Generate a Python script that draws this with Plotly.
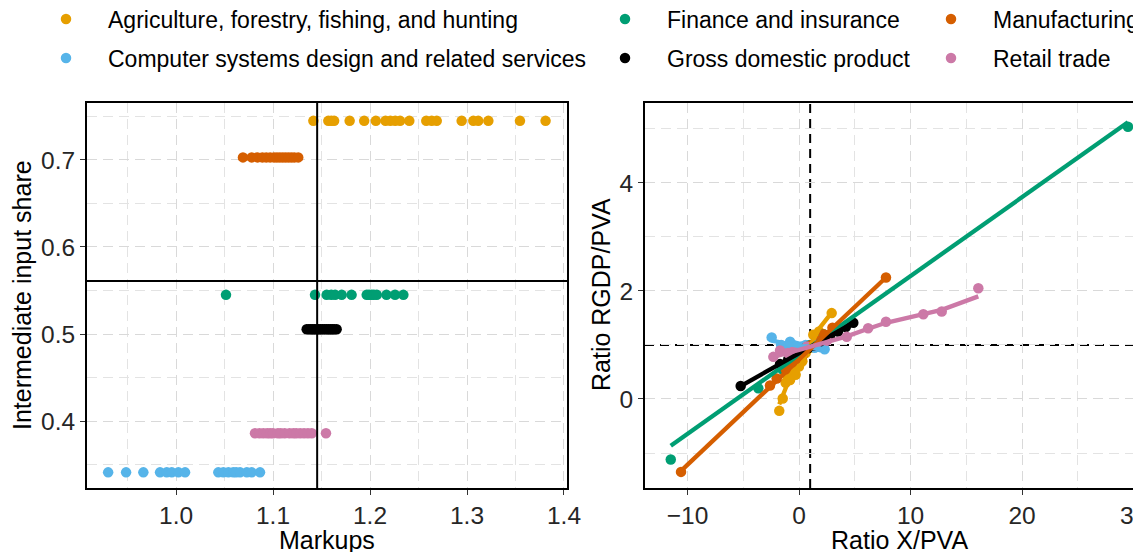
import plotly.graph_objects as go

# ---------------- data ----------------
names = {
    "agri": "Agriculture, forestry, fishing, and hunting",
    "comp": "Computer systems design and related services",
    "fin": "Finance and insurance",
    "gdp": "Gross domestic product",
    "manu": "Manufacturing",
    "retail": "Retail trade",
}
colors = {
    "agri": "#E69F00",
    "comp": "#56B4E9",
    "fin": "#009E73",
    "gdp": "#000000",
    "manu": "#D55E00",
    "retail": "#CC79A7",
}

# Left panel: markups (x) and intermediate input share (constant per industry)
markup_agri = [1.1416, 1.157, 1.160, 1.163, 1.179, 1.194, 1.206, 1.216, 1.221, 1.226, 1.231,
               1.2405, 1.258, 1.2636, 1.2688, 1.2945, 1.3065, 1.3116, 1.322, 1.3546, 1.381]
markup_manu = [1.069, 1.078, 1.084, 1.089, 1.093, 1.097, 1.101, 1.104, 1.107, 1.110, 1.113,
               1.116, 1.119, 1.122, 1.126]
markup_fin = [1.0515, 1.1433, 1.1553, 1.160, 1.164, 1.1708, 1.181, 1.1966, 1.199, 1.2017,
              1.204, 1.207, 1.217, 1.2258, 1.2344]
markup_gdp = [1.1347, 1.137, 1.139, 1.141, 1.143, 1.145, 1.147, 1.149, 1.151, 1.153, 1.155,
              1.157, 1.159, 1.161, 1.163, 1.1656]
markup_retail = [1.0814, 1.086, 1.090, 1.094, 1.097, 1.100, 1.105, 1.108, 1.112, 1.117, 1.121,
                 1.124, 1.128, 1.132, 1.136, 1.140, 1.1546]
markup_comp = [0.930, 0.9485, 0.9663, 0.9835, 0.9904, 0.9956, 1.0024, 1.0093, 1.0436, 1.0488,
               1.054, 1.059, 1.062, 1.066, 1.073, 1.078, 1.0866]

share_agri = 0.745
share_manu = 0.703
share_fin = 0.545
share_gdp = 0.5054
share_retail = 0.386
share_comp = 0.341

markup_threshold = 1.1455
share_threshold = 0.561

# Right panel: Ratio X/PVA (x), Ratio RGDP/PVA (y) and fitted trend
xr_agri = [-1.77, -1.46, -1.2, -1.0, -0.8, -0.6, -0.3, 0.0, 0.3, 0.6, 1.0, 1.28, 1.8, 2.93]
yr_agri = [-0.22, 0.01, 0.30, 0.40, 0.35, 0.50, 0.45, 0.60, 0.70, 0.85, 0.95, 1.19, 1.25, 1.59]
fit_agri = [-0.10, 0.05, 0.22, 0.30, 0.35, 0.42, 0.45, 0.55, 0.68, 0.82, 0.98, 1.12, 1.30, 1.60]

xr_comp = [-2.45, -1.6, -1.2, -0.8, -0.5, -0.2, 0.2, 0.6, 1.0, 1.4, 1.9, 2.3]
yr_comp = [1.14, 1.00, 0.97, 1.06, 1.00, 0.98, 0.97, 1.00, 0.98, 0.95, 0.96, 0.92]
fit_comp = [1.08, 1.04, 1.02, 1.02, 1.00, 0.99, 0.98, 0.98, 0.97, 0.95, 0.94, 0.92]

xr_fin = [-11.5, -3.65, -1.5, -0.8, -0.3, 0.2, 0.6, 1.0, 1.5, 2.2, 29.5]
yr_fin = [-1.12, 0.20, 0.55, 0.70, 0.80, 0.88, 0.95, 1.00, 1.05, 1.20, 5.04]
fit_fin = [-0.865, 0.278, 0.591, 0.693, 0.766, 0.839, 0.897, 0.955, 1.028, 1.130, 5.124]

xr_gdp = [-5.23, -1.7, -0.96, -0.5, -0.2, 0.3, 0.8, 1.3, 1.88, 2.4, 2.78, 3.5, 4.2, 4.87]
yr_gdp = [0.24, 0.649, 0.735, 0.788, 0.823, 0.880, 0.938, 0.996, 1.063, 1.124, 1.168, 1.251,
          1.332, 1.41]
fit_gdp = [0.24, 0.649, 0.735, 0.788, 0.823, 0.880, 0.938, 0.996, 1.063, 1.124, 1.168, 1.251,
           1.332, 1.41]

xr_manu = [-10.58, -2.6, -2.0, -1.2, -0.6, -0.2, 0.3, 0.7, 1.1, 1.6, 2.2, 3.0, 7.8]
yr_manu = [-1.35, 0.25, 0.38, 0.55, 0.68, 0.75, 0.80, 0.95, 1.00, 1.08, 1.20, 1.32, 2.25]
fit_manu = [-1.33, 0.224, 0.341, 0.497, 0.614, 0.692, 0.789, 0.867, 0.945, 1.043, 1.160, 1.315,
            2.25]

xr_retail = [-2.3, -1.7, -1.0, -0.5, 0.0, 0.7, 1.5, 2.5, 4.28, 6.2, 7.8, 11.15, 12.8, 16.08]
yr_retail = [0.78, 0.90, 0.85, 0.88, 0.92, 0.97, 1.00, 1.08, 1.15, 1.31, 1.43, 1.57, 1.62, 2.05]
fit_retail = [0.78, 0.82, 0.85, 0.88, 0.91, 0.95, 1.00, 1.06, 1.16, 1.30, 1.41, 1.57, 1.65, 1.90]

left_data = {
    "agri": (markup_agri, share_agri),
    "fin": (markup_fin, share_fin),
    "manu": (markup_manu, share_manu),
    "comp": (markup_comp, share_comp),
    "gdp": (markup_gdp, share_gdp),
    "retail": (markup_retail, share_retail),
}
right_data = {
    "agri": (xr_agri, yr_agri, fit_agri),
    "comp": (xr_comp, yr_comp, fit_comp),
    "fin": (xr_fin, yr_fin, fit_fin),
    "gdp": (xr_gdp, yr_gdp, fit_gdp),
    "manu": (xr_manu, yr_manu, fit_manu),
    "retail": (xr_retail, yr_retail, fit_retail),
}

# figure size (page body adds an 8px offset)
W, H = 1133, 544
ML, MT, MB = 79, 95, 64
plot_w = W - ML
plot_h = H - MT - MB

legend_slots = {
    "agri": ("legend", 16, 11),
    "comp": ("legend2", 16, 50),
    "fin": ("legend3", 575, 11),
    "gdp": ("legend4", 575, 50),
    "manu": ("legend5", 901, 11),
    "retail": ("legend6", 901, 50),
}

FONT = "Liberation Sans, Arial, Helvetica, sans-serif"
MS = 10.5

fig = go.Figure()

for key, (xs, share) in left_data.items():
    fig.add_trace(go.Scatter(
        x=xs, y=[share] * len(xs), mode="markers", name=names[key],
        marker=dict(color=colors[key], size=MS),
        xaxis="x", yaxis="y", legend=legend_slots[key][0], showlegend=True,
    ))

for key, (xs, ys, fs) in right_data.items():
    fig.add_trace(go.Scatter(
        x=xs, y=ys, mode="markers", name=names[key],
        marker=dict(color=colors[key], size=MS),
        xaxis="x2", yaxis="y2", showlegend=False,
    ))
for key, (xs, ys, fs) in right_data.items():
    fig.add_trace(go.Scatter(
        x=xs, y=fs, mode="lines", name=names[key],
        line=dict(color=colors[key], width=4.3),
        xaxis="x2", yaxis="y2", showlegend=False,
    ))

fig.add_shape(type="line", xref="x", yref="y domain", x0=markup_threshold, x1=markup_threshold,
              y0=0, y1=1, line=dict(color="black", width=2), layer="above")
fig.add_shape(type="line", xref="x domain", yref="y", x0=0, x1=1, y0=share_threshold,
              y1=share_threshold, line=dict(color="black", width=2), layer="above")
fig.add_shape(type="line", xref="x2", yref="y2 domain", x0=1, x1=1, y0=0, y1=1,
              line=dict(color="black", width=2, dash="9px,6px"), layer="below")
fig.add_shape(type="line", xref="x2 domain", yref="y2", x0=0, x1=1, y0=1, y1=1,
              line=dict(color="black", width=2, dash="9px,6px"), layer="below")

axis_common = dict(
    showline=True, linecolor="black", linewidth=2, ticks="outside", ticklen=5,
    tickcolor="#333333", tickwidth=1.2, zeroline=False, automargin=False,
    tickfont=dict(family=FONT, size=24.5, color="#262626"),
    showgrid=True, gridcolor="#D9D9D9", gridwidth=1, griddash="10px,6px",
)

fig.update_layout(
    width=W, height=H,
    margin=dict(l=ML, r=0, t=MT, b=MB, autoexpand=False),
    plot_bgcolor="white", paper_bgcolor="white",
    font=dict(family=FONT, color="#000000"),
    xaxis=dict(domain=[0, 480 / plot_w], range=[0.9082, 1.4031], dtick=0.1, tick0=1.0,
               tickformat=".1f", mirror=True,
               minor=dict(dtick=0.05, tick0=1.0, showgrid=True, gridcolor="#E3E3E3",
                          gridwidth=0.8, griddash="10px,6px"),
               anchor="y", **axis_common),
    yaxis=dict(domain=[0, 1], range=[0.323, 0.7655], dtick=0.1, tick0=0.4, tickformat=".1f",
               mirror=True,
               minor=dict(dtick=0.05, tick0=0.4, showgrid=True, gridcolor="#E3E3E3",
                          gridwidth=0.8, griddash="10px,6px"),
               anchor="x", **axis_common),
    xaxis2=dict(domain=[558 / plot_w, 1.0], range=[-13.81, 30.67], dtick=10, tick0=0,
                mirror=True, ticklabeloverflow="allow",
                minor=dict(dtick=5, tick0=0, showgrid=True, gridcolor="#E3E3E3",
                           gridwidth=0.8, griddash="10px,6px"),
                anchor="y2", **axis_common),
    yaxis2=dict(domain=[0, 1], range=[-1.648, 5.48], dtick=2, tick0=0,
                mirror=False,
                minor=dict(dtick=1, tick0=0, showgrid=True, gridcolor="#E3E3E3",
                           gridwidth=0.8, griddash="10px,6px"),
                anchor="x2", **axis_common),
)

# axis titles (placed in figure pixels)
def px_to_paper(xp, yp):
    return (xp - ML) / plot_w, 1 - (yp - MT) / plot_h

axis_titles = [
    ("Markups", 319, 532, 0),
    ("Ratio X/PVA", 891, 532, 0),
    ("Intermediate input share", 14, 287, -90),
    ("Ratio RGDP/PVA", 593, 287, -90),
]
for text, xp, yp, ang in axis_titles:
    ax_, ay_ = px_to_paper(xp, yp)
    fig.add_annotation(text=text, x=ax_, y=ay_, xref="paper", yref="paper",
                       xanchor="center", yanchor="middle", textangle=ang, showarrow=False,
                       font=dict(family=FONT, size=25, color="#000000"))

for key, (lg, left_px, cy) in legend_slots.items():
    fig.update_layout({lg: dict(
        xref="container", yref="container", x=left_px / W, y=1 - cy / H,
        xanchor="left", yanchor="middle", orientation="v",
        itemwidth=74, bgcolor="rgba(0,0,0,0)", borderwidth=0,
        font=dict(family=FONT, size=23, color="#000000"),
    )})

fig.write_html("out.html")
